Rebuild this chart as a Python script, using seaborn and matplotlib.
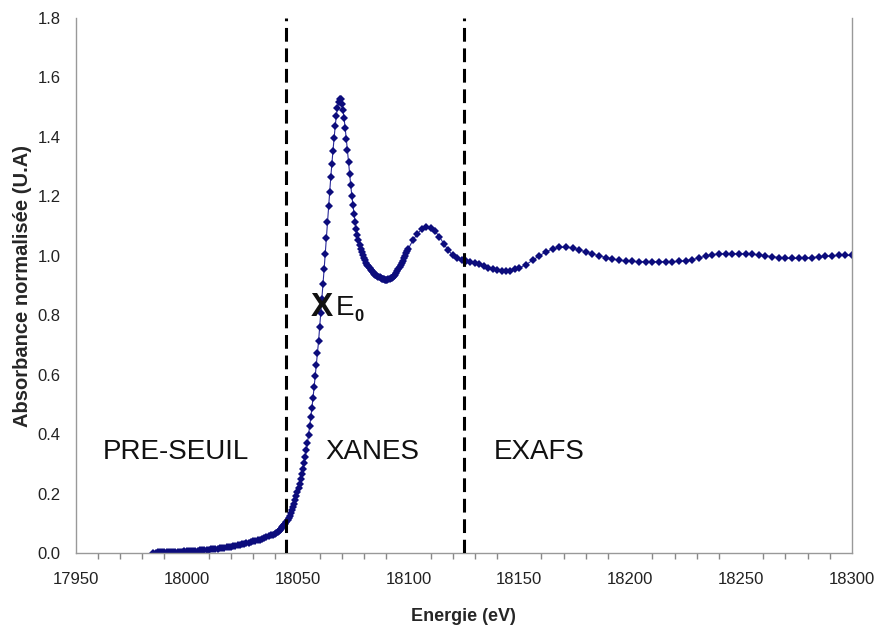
import numpy as np
import pandas as pd
import seaborn as sns
import matplotlib.pyplot as plt
from matplotlib.ticker import MultipleLocator

# grille d'energie (eV) : pas 1 eV avant le seuil, 0.5 eV sur le seuil, puis 2 et 3 eV
energie = np.concatenate([
    np.arange(17985, 18040, 1.0),
    np.arange(18040, 18100, 0.5),
    np.arange(18100, 18150, 2.0),
    np.arange(18150, 18301, 3.0),
])

abs_preseuil = [
    0.001, 0.001, 0.002, 0.002, 0.002, 0.003, 0.003, 0.003, 0.004, 0.004,
    0.004, 0.005, 0.005, 0.005, 0.006, 0.006, 0.007, 0.007, 0.007, 0.008,
    0.008, 0.009, 0.009, 0.010, 0.010, 0.011, 0.012, 0.013, 0.014, 0.015,
    0.016, 0.017, 0.018, 0.019, 0.020, 0.021, 0.023, 0.024, 0.026, 0.027,
    0.029, 0.031, 0.033, 0.035, 0.037, 0.039, 0.041, 0.043, 0.045, 0.048,
    0.050, 0.053, 0.056, 0.059, 0.062,
]

abs_xanes = [
    0.065, 0.068, 0.071, 0.075, 0.078, 0.082, 0.086, 0.090, 0.094, 0.099,
    0.104, 0.110, 0.117, 0.125, 0.134, 0.144, 0.155, 0.166, 0.178, 0.191,
    0.204, 0.218, 0.232, 0.250, 0.266, 0.284, 0.303, 0.324, 0.346, 0.370,
    0.398, 0.426, 0.456, 0.488, 0.522, 0.558, 0.596, 0.634, 0.672, 0.712,
    0.760, 0.808, 0.856, 0.904, 0.954, 1.006, 1.060, 1.114, 1.166, 1.216,
    1.264, 1.310, 1.354, 1.396, 1.436, 1.470, 1.498, 1.518, 1.528, 1.526,
    1.512, 1.490, 1.462, 1.430, 1.394, 1.356, 1.316, 1.276, 1.238, 1.202,
    1.170, 1.140, 1.114, 1.090, 1.070, 1.052, 1.037, 1.024, 1.012, 1.002,
    0.993, 0.985, 0.977, 0.970, 0.964, 0.958, 0.953, 0.948, 0.944, 0.940,
    0.937, 0.934, 0.931, 0.929, 0.927, 0.925, 0.923, 0.922, 0.921, 0.920,
    0.920, 0.920, 0.921, 0.922, 0.924, 0.926, 0.929, 0.933, 0.937, 0.942,
    0.948, 0.954, 0.961, 0.968, 0.976, 0.984, 0.992, 1.000, 1.008, 1.016,
]

abs_exafs_1 = [
    1.024, 1.052, 1.074, 1.089, 1.096, 1.094, 1.083, 1.064, 1.040, 1.018,
    1.002, 0.992, 0.986, 0.982, 0.980, 0.977, 0.972, 0.966, 0.960, 0.955,
    0.951, 0.949, 0.948, 0.950, 0.954,
]

abs_exafs_2 = [
    0.959, 0.970, 0.985, 1.000, 1.013, 1.023, 1.028, 1.029, 1.026, 1.020,
    1.013, 1.006, 1.000, 0.994, 0.989, 0.985, 0.982, 0.981, 0.980, 0.980,
    0.980, 0.980, 0.980, 0.980, 0.981, 0.983, 0.987, 0.993, 0.999, 1.004,
    1.006, 1.007, 1.007, 1.007, 1.006, 1.005, 1.003, 1.000, 0.997, 0.994,
    0.992, 0.991, 0.991, 0.992, 0.994, 0.996, 0.998, 1.000, 1.001, 1.001,
    1.001,
]

limites = [18045, 18125]
zones = ["PRE-SEUIL", "XANES", "EXAFS"]
zones_x = [17962, 18062.5, 18138.5]
zones_y = 0.34
e0 = (18060.8, 0.825)

absorbance = abs_preseuil + abs_xanes + abs_exafs_1 + abs_exafs_2
df = pd.DataFrame({"Energie": energie, "Absorbance": absorbance})

sns.set_style("white")
plt.rcParams['font.family'] = ['Liberation Sans', 'DejaVu Sans']

f = plt.figure(figsize=(8.75, 6.3), dpi=100)
ax = f.add_axes([0.0865, 0.1222, 0.8872, 0.8492])

sns.lineplot(data=df, x="Energie", y="Absorbance", ax=ax, sort=False, estimator=None,
             color='#2a2a9a', linewidth=0.8, marker='D', markersize=4.0,
             markeredgewidth=0, markerfacecolor='#0c0c7c')

for xv in limites:
    ax.axvline(xv, color='k', linewidth=2.2, linestyle=(0, (4.5, 2.2)), zorder=3)

for t, xt in zip(zones, zones_x):
    ax.text(xt, zones_y, t, fontsize=20, ha='left', va='center', color='#111111')

ax.text(e0[0], e0[1], "X", fontsize=24, fontweight='bold', ha='center', va='center',
        color='#111111')
ax.annotate("E", xy=e0, xytext=(10, 0), textcoords='offset points', fontsize=20,
            ha='left', va='center', color='#111111')
ax.annotate("0", xy=e0, xytext=(24, -6), textcoords='offset points', fontsize=12,
            fontweight='bold', ha='left', va='center', color='#111111')

ax.set_xlim(17950, 18300)
ax.set_ylim(0, 1.8)
ax.xaxis.set_major_locator(MultipleLocator(50))
ax.xaxis.set_minor_locator(MultipleLocator(10))
ax.yaxis.set_major_locator(MultipleLocator(0.2))
ax.yaxis.set_major_formatter(plt.FormatStrFormatter('%.1f'))

ax.tick_params(axis='both', which='major', direction='out', length=6, width=1,
               color='#888888', labelsize=12, labelcolor='#222222')
ax.tick_params(axis='x', which='major', pad=8)
ax.tick_params(axis='x', which='minor', direction='out', length=4, width=1,
               color='#888888', bottom=True)
ax.tick_params(axis='y', which='major', pad=5)

for s in ['left', 'bottom', 'right']:
    ax.spines[s].set_color('#999999')
    ax.spines[s].set_linewidth(1)
ax.spines['top'].set_visible(False)

ax.set_xlabel("Energie (eV)", fontsize=13, fontweight='bold', labelpad=15)
ax.set_ylabel("Absorbance normalisée (U.A)", fontsize=14.5, fontweight='bold', labelpad=4)

f.savefig("out.png", dpi=100)
